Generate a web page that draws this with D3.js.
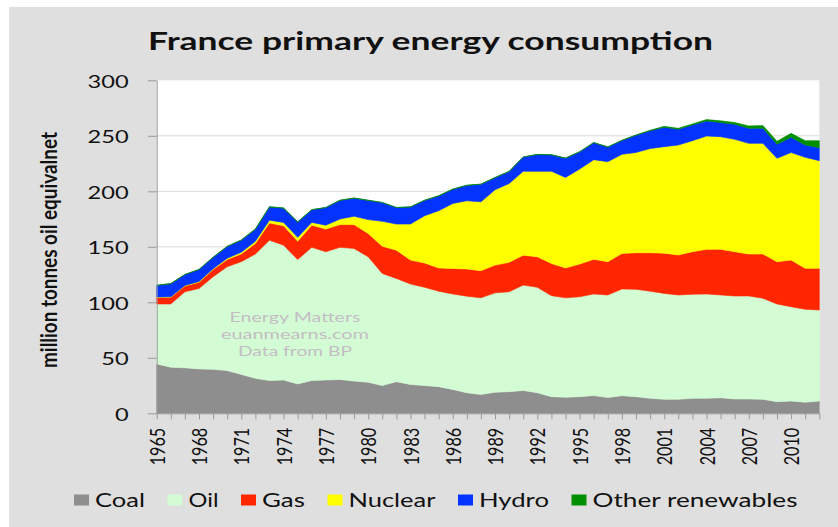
<!DOCTYPE html>
<html>
<head>
<meta charset="utf-8">
<script src="https://cdn.jsdelivr.net/npm/d3@7/dist/d3.min.js"></script>
<style>
  html, body { margin: 0; padding: 0; background: #fff; }
  svg { display: block; }
  text { font-family: Lato, "Open Sans", "DejaVu Sans", sans-serif; }
</style>
</head>
<body>
<svg id="chart" width="838" height="527"></svg>
<script>
// France primary energy consumption, million tonnes oil equivalent (BP data)
const years = [1965,1966,1967,1968,1969,1970,1971,1972,1973,1974,1975,1976,1977,1978,1979,
  1980,1981,1982,1983,1984,1985,1986,1987,1988,1989,1990,1991,1992,1993,1994,1995,1996,1997,
  1998,1999,2000,2001,2002,2003,2004,2005,2006,2007,2008,2009,2010,2011,2012];

const coal    = [44.5,41.5,41.0,40.0,39.6,38.5,35.0,31.5,29.5,30.0,26.5,29.5,30.0,30.5,29.0,
  28.0,25.0,28.5,26.0,25.0,24.0,21.5,18.5,17.0,19.0,19.5,20.5,18.5,15.0,14.5,15.0,16.0,14.2,
  15.9,15.0,13.5,12.6,12.6,13.5,13.5,14.0,12.9,12.9,12.6,10.5,11.0,10.0,11.0];
const oil     = [54.0,57.0,68.5,72.5,83.4,93.5,101.6,112.0,126.5,121.5,112.0,120.0,115.5,119.0,119.5,
  113.0,101.0,93.0,90.5,88.5,86.0,86.0,87.0,87.0,89.5,90.0,95.0,95.0,91.0,89.5,90.0,91.5,92.4,
  96.1,96.7,96.5,95.4,94.0,93.7,94.0,92.6,92.8,92.8,91.0,88.0,85.0,83.7,82.0];
const gas     = [6.0,6.0,5.2,5.5,6.5,6.5,7.0,9.5,15.5,17.5,16.5,20.0,20.5,20.5,21.5,
  21.0,24.5,25.5,21.5,22.0,21.0,23.0,24.5,24.5,25.0,26.5,27.0,27.5,29.0,27.0,29.5,31.2,30.0,
  32.0,33.0,34.7,36.3,36.0,38.4,40.2,41.1,39.9,37.8,39.9,38.1,42.0,36.9,37.6];
const nuclear = [0.3,0.4,0.5,0.7,0.7,1.2,1.5,2.0,2.5,3.0,3.5,2.5,3.5,5.0,7.5,
  12.5,22.5,23.5,32.5,42.5,51.5,58.5,61.5,62.0,68.0,71.0,75.5,77.0,83.0,81.5,85.5,89.8,90.1,
  89.3,90.3,93.8,95.9,99.1,100.0,102.1,101.5,101.2,99.7,99.7,93.1,97.0,100.0,97.0];
const hydro   = [10.4,11.9,9.8,10.8,10.3,10.6,10.9,10.9,11.9,12.8,13.8,11.3,15.8,16.8,16.3,
  17.3,16.8,14.8,15.3,13.8,13.3,12.8,13.8,15.8,10.8,10.8,12.8,15.1,14.8,17.3,15.5,15.3,13.1,
  12.5,15.5,16.1,17.5,14.2,14.2,13.6,12.8,13.6,13.6,13.6,12.6,13.6,11.1,11.7];
const otherRenewables = [0.1,0.1,0.1,0.1,0.1,0.1,0.1,0.1,0.2,0.2,0.2,0.2,0.2,0.2,0.2,
  0.2,0.2,0.2,0.2,0.2,0.2,0.2,0.2,0.2,0.2,0.2,0.2,0.2,0.2,0.2,0.2,0.2,0.2,
  0.2,0.3,0.4,0.8,0.8,0.9,1.2,1.5,1.6,2.1,2.4,2.7,3.6,3.9,6.3];

const seriesNames  = ["Coal", "Oil", "Gas", "Nuclear", "Hydro", "Other renewables"];
const seriesValues = [coal, oil, gas, nuclear, hydro, otherRenewables];
const seriesColors = ["#8e8e8e", "#d4fcd4", "#ff2600", "#ffff00", "#0432ff", "#008f00"];

const xTickYears = [1965,1968,1971,1974,1977,1980,1983,1986,1989,1992,1995,1998,2001,2004,2007,2010];
const yTicks = [0, 50, 100, 150, 200, 250, 300];
const gridValues = [50, 100, 150, 200, 250];

const titleText = "France primary energy consumption";
const yAxisTitle = "million tonnes oil equivalnet";
const creditLines = ["Energy Matters", "euanmearns.com", "Data from BP"];

// ---- layout ----
const W = 838, H = 527;
const plot = { left: 156.7, right: 819.3, top: 80.3, bottom: 413.3 };

const svg = d3.select("#chart");
svg.append("rect").attr("width", W).attr("height", H).attr("fill", "#ffffff");
svg.append("rect").attr("x", 9).attr("y", 7).attr("width", W - 9).attr("height", H - 7).attr("fill", "#dfdfdf");
svg.append("rect")
  .attr("x", plot.left).attr("y", plot.top)
  .attr("width", plot.right - plot.left).attr("height", plot.bottom - plot.top)
  .attr("fill", "#ffffff");

const x = d3.scaleLinear().domain([years[0], years[years.length - 1]]).range([plot.left, plot.right]);
const y = d3.scaleLinear().domain([0, 300]).range([plot.bottom, plot.top]);

// gridlines
svg.append("g").selectAll("line").data(gridValues).join("line")
  .attr("x1", plot.left).attr("x2", plot.right)
  .attr("y1", d => y(d)).attr("y2", d => y(d))
  .attr("stroke", "#d9d9d9").attr("stroke-width", 1);

// stacked areas
const rows = years.map((yr, i) => {
  const r = { year: yr };
  seriesNames.forEach((n, k) => { r[n] = seriesValues[k][i]; });
  return r;
});
const stacked = d3.stack().keys(seriesNames)(rows);
const area = d3.area()
  .x(d => x(d.data.year))
  .y0(d => y(d[0]))
  .y1(d => y(d[1]));

svg.append("g").selectAll("path").data(stacked).join("path")
  .attr("d", area)
  .attr("fill", (d, i) => seriesColors[i])
  .attr("stroke", (d, i) => seriesColors[i])
  .attr("stroke-width", 0.6)
  .attr("stroke-linejoin", "round");

// credit text inside the plot
svg.append("g").selectAll("text").data(creditLines).join("text")
  .attr("x", 295).attr("y", (d, i) => 321.5 + i * 17.2)
  .attr("text-anchor", "middle")
  .attr("font-size", 13)
  .attr("fill", "#c4bcc4")
  .attr("textLength", (d, i) => [131, 148, 114][i])
  .attr("lengthAdjust", "spacingAndGlyphs")
  .text(d => d);

// y axis
const yAxis = svg.append("g")
  .attr("transform", `translate(${plot.left},0)`)
  .call(d3.axisLeft(y).tickValues(yTicks).tickSize(9).tickSizeOuter(0).tickPadding(19));
yAxis.select(".domain").attr("stroke", "#9a9a9a");
yAxis.selectAll(".tick line").attr("stroke", "#9a9a9a");
yAxis.selectAll(".tick text")
  .attr("font-size", 16.5)
  .attr("fill", "#111")
  .attr("dy", "0.42em")
  .attr("textLength", d => String(d).length * 13.7)
  .attr("lengthAdjust", "spacingAndGlyphs")
  .style("font-family", "Lato, 'Open Sans', sans-serif");

// x axis (a tick for every year, labels every third year)
const xAxis = svg.append("g")
  .attr("transform", `translate(0,${plot.bottom})`)
  .call(d3.axisBottom(x).tickValues(years).tickSize(6).tickSizeOuter(0)
    .tickFormat(d => xTickYears.includes(d) ? String(d) : ""));
xAxis.select(".domain").attr("stroke", "#9a9a9a");
xAxis.selectAll(".tick line").attr("stroke", "#9a9a9a");
xAxis.selectAll(".tick text")
  .attr("transform", "rotate(-90)")
  .attr("text-anchor", "end")
  .attr("x", -14.5)
  .attr("y", 0)
  .attr("dy", "0.36em")
  .attr("font-size", 21)
  .attr("fill", "#111")
  .attr("textLength", d => xTickYears.includes(d) ? 37.5 : null)
  .attr("lengthAdjust", "spacingAndGlyphs")
  .style("font-family", "Lato, 'Open Sans', sans-serif");

// title
svg.append("text")
  .attr("x", 430.5).attr("y", 50)
  .attr("text-anchor", "middle")
  .attr("font-size", 25.5).attr("font-weight", "bold")
  .attr("fill", "#111")
  .attr("textLength", 565).attr("lengthAdjust", "spacingAndGlyphs")
  .text(titleText);

// y axis title
svg.append("text")
  .attr("transform", "translate(57,250) rotate(-90)")
  .attr("text-anchor", "middle")
  .attr("font-size", 23).attr("font-weight", "bold")
  .attr("fill", "#111")
  .attr("textLength", 236).attr("lengthAdjust", "spacingAndGlyphs")
  .text(yAxisTitle);

// legend
const legendTextWidths = [50, 30, 43, 87, 70, 205];
const legend = svg.append("g");
let lx = 74;
seriesNames.forEach((name, i) => {
  legend.append("rect")
    .attr("x", lx).attr("y", 494.5).attr("width", 15).attr("height", 11)
    .attr("fill", seriesColors[i]);
  legend.append("text")
    .attr("x", lx + 21).attr("y", 507)
    .attr("font-size", 18.5).attr("fill", "#111")
    .attr("textLength", legendTextWidths[i]).attr("lengthAdjust", "spacingAndGlyphs")
    .text(name);
  lx += 15 + 6 + legendTextWidths[i] + 22.5;
});
</script>
</body>
</html>
